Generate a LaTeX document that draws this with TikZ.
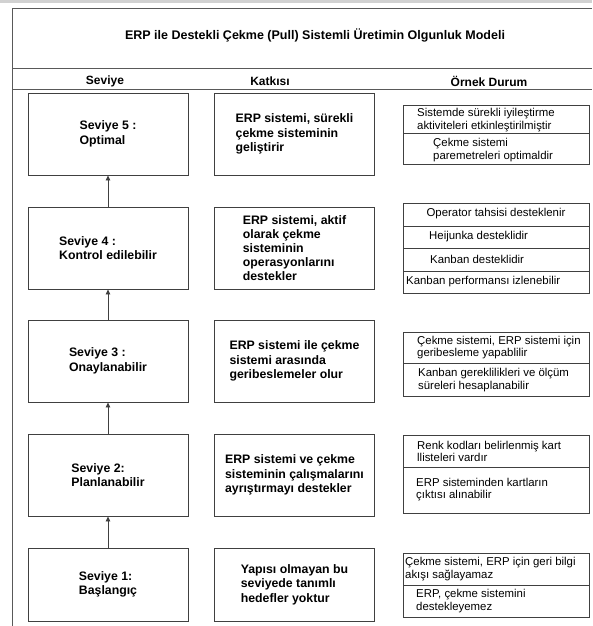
\documentclass[tikz,border=0pt]{standalone}
\usepackage{fontspec}
\setmainfont{Liberation Sans}
\usetikzlibrary{arrows.meta}

\begin{document}
\begin{tikzpicture}[x=1pt, y=-1pt, >={Triangle[width=4.5pt,length=5pt]},
		cerceve/.style={draw=black!65, line width=0.8pt},
		kutu/.style={draw=black!75, line width=0.9pt, minimum width=160pt, minimum height=82pt, inner sep=0pt, align=left, font=\bfseries\fontsize{12.3}{14.6}\selectfont},
		hucre/.style={draw=black!75, line width=0.9pt, minimum width=186pt, anchor=north west, inner sep=0pt},
		ornek/.style={anchor=west, align=left, inner sep=0pt, font=\fontsize{11.4}{12.6}\selectfont},
		baslik/.style={inner sep=0pt, font=\bfseries\fontsize{12}{14}\selectfont}]
	\useasboundingbox (0,0) rectangle (592,626);
	
	% ------------------ çerçeve ------------------
	\fill[black!18] (0,0) rectangle (592,3);
	\draw[cerceve] (12.5,626) -- (12.5,8) -- (592,8);
	\draw[cerceve] (12.5,68) -- (592,68);
	\draw[cerceve] (12.5,89) -- (592,89);
	
	% başlık ve sütun başlıkları
	\node[baslik, font=\bfseries\fontsize{12.5}{14}\selectfont] (baslik) at (315,35) {ERP ile Destekli Çekme (Pull) Sistemli Üretimin Olgunluk Modeli};
	\node[baslik] (hSeviye) at (105,81) {Seviye};
	\node[baslik] (hKatki) at (270,81) {Katkısı};
	\node[baslik] (hOrnek) at (489,81) {Örnek Durum};
	
	% ------------------ seviyeler ------------------
	\node[kutu] (sv5) at (108,134) {Seviye 5 :\\Optimal};
	\node[kutu] (sv4) at (108,248) {Seviye 4 :\\Kontrol edilebilir};
	\node[kutu] (sv3) at (108,361) {Seviye 3 :\\Onaylanabilir};
	\node[kutu] (sv2) at (108,475) {Seviye 2:\\Planlanabilir};
	\node[kutu, minimum height=73pt] (sv1) at (108,584.5) {Seviye 1:\\Başlangıç};
	
	\draw[->, draw=black!75, fill=black!75, line width=0.8pt] (sv1) -- (sv2);
	\draw[->, draw=black!75, fill=black!75, line width=0.8pt] (sv2) -- (sv3);
	\draw[->, draw=black!75, fill=black!75, line width=0.8pt] (sv3) -- (sv4);
	\draw[->, draw=black!75, fill=black!75, line width=0.8pt] (sv4) -- (sv5);
	
	% ------------------ katkısı ------------------
	\node[kutu] (kt5) at (294.5,134) {ERP sistemi, sürekli\\çekme sisteminin\\geliştirir};
	\node[kutu, font=\bfseries\fontsize{12.3}{14}\selectfont] (kt4) at (294.5,248) {ERP sistemi, aktif\\olarak çekme\\sisteminin\\operasyonlarını\\destekler};
	\node[kutu] (kt3) at (294.5,361) {ERP sistemi ile çekme\\sistemi arasında\\geribeslemeler olur};
	\node[kutu] (kt2) at (294.5,475) {ERP sistemi ve çekme\\sisteminin çalışmalarını\\ayrıştırmayı destekler};
	\node[kutu, minimum height=73pt] (kt1) at (294.5,584.5) {Yapısı olmayan bu\\seviyede tanımlı\\hedefler yoktur};
	
	% ------------------ örnek durum ------------------
	% seviye 5
	\node[hucre, minimum height=28pt] (o5a) at (403,105) {};
	\node[hucre, minimum height=31pt] (o5b) at (403,133) {};
	\node[ornek] (t5a) at (417,120) {Sistemde sürekli iyileştirme\\aktiviteleri etkinleştirilmiştir};
	\node[ornek] (t5b) at (433,150) {Çekme sistemi\\paremetreleri optimaldir};
	
	% seviye 4
	\node[hucre, minimum height=22.5pt] (o4a) at (403,203) {};
	\node[hucre, minimum height=22.5pt] (o4b) at (403,225.5) {};
	\node[hucre, minimum height=22.5pt] (o4c) at (403,248) {};
	\node[hucre, minimum height=22.5pt] (o4d) at (403,270.5) {};
	\node[ornek, anchor=center] (t4a) at (496,214) {Operator tahsisi desteklenir};
	\node[ornek] (t4b) at (429,237) {Heijunka desteklidir};
	\node[ornek] (t4c) at (430,259) {Kanban desteklidir};
	\node[ornek] (t4d) at (406,282) {Kanban performansı izlenebilir};
	
	% seviye 3
	\node[hucre, minimum height=31pt] (o3a) at (403,332) {};
	\node[hucre, minimum height=33pt] (o3b) at (403,363) {};
	\node[ornek] (t3a) at (417,347.5) {Çekme sistemi, ERP sistemi için\\geribesleme yapablilir};
	\node[ornek] (t3b) at (418,380) {Kanban gereklilikleri ve ölçüm\\süreleri hesaplanabilir};
	
	% seviye 2
	\node[hucre, minimum height=32pt] (o2a) at (403,435) {};
	\node[hucre, minimum height=46pt] (o2b) at (403,467) {};
	\node[ornek] (t2a) at (417,451.5) {Renk kodları belirlenmiş kart\\llisteleri vardır};
	\node[ornek] (t2b) at (416,489.5) {ERP sisteminden kartların\\çıktısı alınabilir};
	
	% seviye 1
	\node[hucre, minimum height=32pt] (o1a) at (403,553) {};
	\node[hucre, minimum height=32pt] (o1b) at (403,585) {};
	\node[ornek] (t1a) at (405,569) {Çekme sistemi, ERP için geri bilgi\\akışı sağlayamaz};
	\node[ornek] (t1b) at (416,601) {ERP, çekme sistemini\\destekleyemez};
\end{tikzpicture}
\end{document}
